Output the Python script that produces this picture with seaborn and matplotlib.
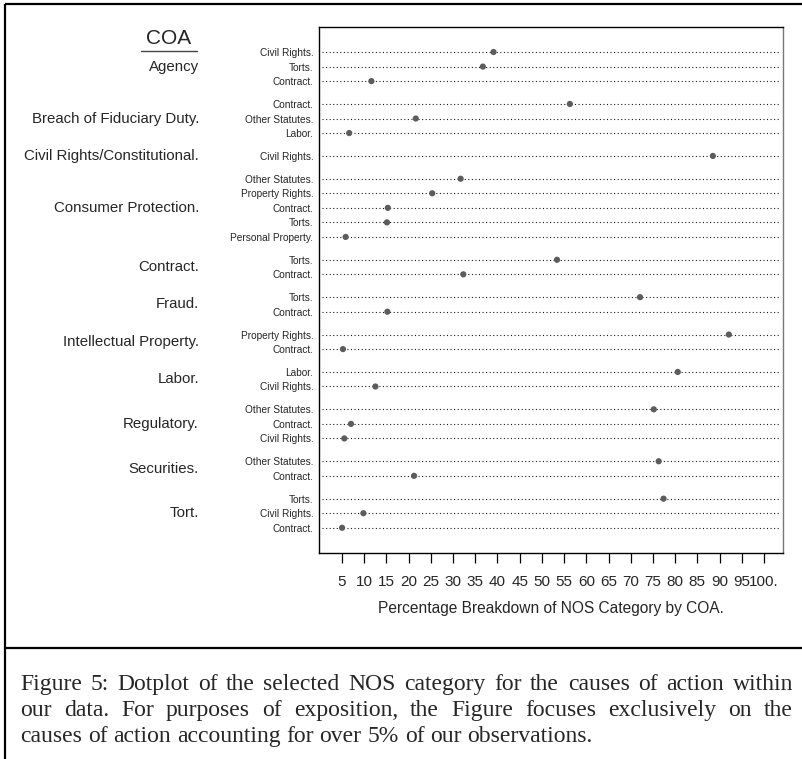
import matplotlib
matplotlib.use("Agg")
import matplotlib.pyplot as plt
import seaborn as sns
import pandas as pd
from matplotlib.lines import Line2D
from matplotlib.transforms import blended_transform_factory

# ---------------- data ----------------
coa_groups = ["Agency", "Breach of Fiduciary Duty", "Civil Rights/Constitutional",
              "Consumer Protection", "Contract", "Fraud", "Intellectual Property",
              "Labor", "Regulatory", "Securities", "Tort"]
coa_labels = ["Agency", "Breach of Fiduciary Duty.", "Civil Rights/Constitutional.",
              "Consumer Protection.", "Contract.", "Fraud.", "Intellectual Property.",
              "Labor.", "Regulatory.", "Securities.", "Tort."]

agency_nos = ["Civil Rights", "Torts", "Contract"]
agency_pct = [39.1, 36.7, 11.6]
fiduciary_nos = ["Contract", "Other Statutes", "Labor"]
fiduciary_pct = [56.3, 21.6, 6.6]
civilrights_nos = ["Civil Rights"]
civilrights_pct = [88.5]
consumer_nos = ["Other Statutes", "Property Rights", "Contract", "Torts", "Personal Property"]
consumer_pct = [31.7, 25.3, 15.3, 15.1, 5.8]
contract_nos = ["Torts", "Contract"]
contract_pct = [53.4, 32.3]
fraud_nos = ["Torts", "Contract"]
fraud_pct = [72.1, 15.2]
ip_nos = ["Property Rights", "Contract"]
ip_pct = [92.1, 5.2]
labor_nos = ["Labor", "Civil Rights"]
labor_pct = [80.6, 12.5]
regulatory_nos = ["Other Statutes", "Contract", "Civil Rights"]
regulatory_pct = [75.2, 7.0, 5.5]
securities_nos = ["Other Statutes", "Contract"]
securities_pct = [76.3, 21.2]
tort_nos = ["Torts", "Civil Rights", "Contract"]
tort_pct = [77.4, 9.8, 5.0]

x_ticks = [5, 10, 15, 20, 25, 30, 35, 40, 45, 50, 55, 60, 65, 70, 75, 80, 85, 90, 95, 100]
x_tick_labels = ["5", "10", "15", "20", "25", "30", "35", "40", "45", "50", "55",
                 "60", "65", "70", "75", "80", "85", "90", "95", "100."]

caption_lines = [
    "Figure 5: Dotplot of the selected NOS category for the causes of action within",
    "our data. For purposes of exposition, the Figure focuses exclusively on the",
    "causes of action accounting for over 5% of our observations.",
]

nos_lists = [agency_nos, fiduciary_nos, civilrights_nos, consumer_nos, contract_nos,
             fraud_nos, ip_nos, labor_nos, regulatory_nos, securities_nos, tort_nos]
pct_lists = [agency_pct, fiduciary_pct, civilrights_pct, consumer_pct, contract_pct,
             fraud_pct, ip_pct, labor_pct, regulatory_pct, securities_pct, tort_pct]

# ---------------- table ----------------
GAP = 0.57
rows = []
r = 0
for gi, (g, nl, pl) in enumerate(zip(coa_groups, nos_lists, pct_lists)):
    for n, p in zip(nl, pl):
        rows.append({"coa": g, "group_idx": gi, "nos": n, "pct": p, "ypos": r + gi * GAP})
        r += 1
df = pd.DataFrame(rows)

# ---------------- style ----------------
sns.set_style("white")
plt.rcParams["font.family"] = ["Liberation Sans", "DejaVu Sans"]

W, H = 802, 759
fig = plt.figure(figsize=(W / 100, H / 100), dpi=100)
fig.patch.set_facecolor("white")

ax_l, ax_r, ax_t, ax_b = 319, 783, 27, 552.5
ax = fig.add_axes([ax_l / W, 1 - ax_b / H, (ax_r - ax_l) / W, (ax_b - ax_t) / H])

xlo, xhi = -0.2, 104.3
ax.hlines(df["ypos"], xlo + 0.6, xhi - 0.6, colors="#1a1a1a",
          linestyles=(0, (1, 2.2)), linewidth=0.8, zorder=1)
sns.scatterplot(data=df, x="pct", y="ypos", ax=ax, color="#5c5c5c", s=20,
                edgecolor="none", zorder=3, legend=False)

ax.set_xlim(xlo, xhi)
ax.set_ylim(df["ypos"].max() + 1.70, -1.72)

ax.set_yticks(df["ypos"])
ax.set_yticklabels([n + "." for n in df["nos"]], fontsize=7.3)
ax.tick_params(axis="y", left=False, length=0, pad=4)

ax.set_xticks(x_ticks)
ax.set_xticklabels(x_tick_labels, fontsize=11)
ax.tick_params(axis="x", bottom=True, direction="out", length=7.5, width=0.9,
               color="black", pad=9)
ax.set_xlabel("Percentage Breakdown of NOS Category by COA.", fontsize=11.2, labelpad=8)
ax.set_ylabel("")

for s in ax.spines.values():
    s.set_visible(True)
    s.set_color("black")
    s.set_linewidth(1.0)
ax.spines["right"].set_color("#777777")

# group labels
trans = blended_transform_factory(ax.transAxes, ax.transData)
gx = (199 - ax_l) / (ax_r - ax_l)
for gi, lab in enumerate(coa_labels):
    yc = df.loc[df["group_idx"] == gi, "ypos"].mean()
    ax.text(gx, yc, lab, transform=trans, ha="right", va="center", fontsize=10.8)

# COA header
fig.text(169 / W, 1 - 38 / H, "COA", ha="center", va="center", fontsize=15)
fig.add_artist(Line2D([141 / W, 197 / W], [1 - 50.5 / H, 1 - 50.5 / H],
                      color="#444444", linewidth=1.0, transform=fig.transFigure))

# frame
fc = "black"
fig.add_artist(Line2D([5 / W, 1], [1 - 4 / H, 1 - 4 / H], color=fc, lw=1.6,
                      transform=fig.transFigure, solid_capstyle="butt"))
fig.add_artist(Line2D([5 / W, 5 / W], [0, 1 - 4 / H], color=fc, lw=1.6,
                      transform=fig.transFigure, solid_capstyle="butt"))
fig.add_artist(Line2D([5 / W, 1], [1 - 648 / H, 1 - 648 / H], color=fc, lw=1.6,
                      transform=fig.transFigure, solid_capstyle="butt"))

# justified caption
renderer = fig.canvas.get_renderer()
cap_fs = 17
left_px, right_px = 20, 793
baselines = [690, 716, 742]
sp1 = fig.text(0, 0, "a a", fontsize=cap_fs, family="Liberation Serif")
sp2 = fig.text(0, 0, "aa", fontsize=cap_fs, family="Liberation Serif")
space_w = sp1.get_window_extent(renderer).width - sp2.get_window_extent(renderer).width
sp1.remove(); sp2.remove()
for i, line in enumerate(caption_lines):
    words = line.split()
    texts = [fig.text(0, 0, w, fontsize=cap_fs, family="Liberation Serif",
                      va="baseline", ha="left") for w in words]
    widths = [t.get_window_extent(renderer).width for t in texts]
    if i < len(caption_lines) - 1 and len(words) > 1:
        gap = (right_px - left_px - sum(widths)) / (len(words) - 1)
    else:
        gap = space_w
    x = left_px
    for t, w in zip(texts, widths):
        t.set_position((x / W, 1 - baselines[i] / H))
        x += w + gap

fig.savefig("out.png", dpi=100, facecolor="white")
